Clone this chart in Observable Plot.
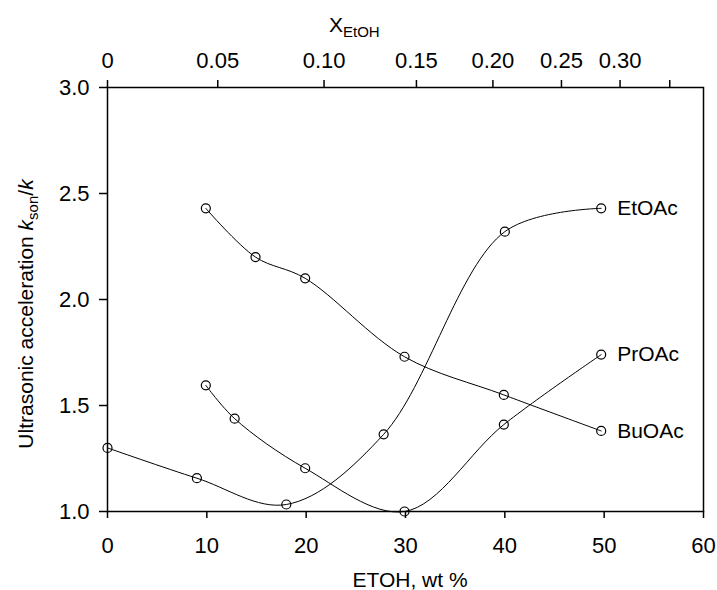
<!DOCTYPE html>
<html>
<head>
<meta charset="utf-8">
<script src="https://cdn.jsdelivr.net/npm/d3@7"></script>
<script src="https://cdn.jsdelivr.net/npm/@observablehq/plot@0.6"></script>
<style>
  html, body { margin: 0; padding: 0; background: white; }
</style>
</head>
<body>
<div id="chart"></div>
<script>
// ---- data ----
const seriesNames = ["EtOAc", "PrOAc", "BuOAc"];
const etoacWt  = [0, 9, 18, 27.8, 40, 49.7];
const etoacVal = [1.30, 1.157, 1.033, 1.364, 2.32, 2.43];
const proacWt  = [9.9, 12.8, 19.9, 29.9, 39.9, 49.7];
const proacVal = [1.595, 1.438, 1.204, 1.0, 1.41, 1.74];
const buoacWt  = [9.9, 14.9, 19.9, 29.9, 39.9, 49.7];
const buoacVal = [2.43, 2.20, 2.10, 1.73, 1.55, 1.38];

const xTicks = [0, 10, 20, 30, 40, 50, 60];
const yTicks = [1.0, 1.5, 2.0, 2.5, 3.0];
// top axis: mole fraction of ethanol, positioned in wt %
const topTickWt = [0, 11.1, 21.8, 31.1, 38.8, 45.7, 51.6, 56.6];
const topTickLabels = ["0", "0.05", "0.10", "0.15", "0.20", "0.25", "0.30", ""];

// ---- build table ----
const wts = [etoacWt, proacWt, buoacWt];
const vals = [etoacVal, proacVal, buoacVal];
const rows = [];
seriesNames.forEach((name, s) => {
  wts[s].forEach((w, i) => rows.push({series: name, wt: w, v: vals[s][i]}));
});
const lastRows = seriesNames.map((name, s) => ({
  series: name, wt: wts[s][wts[s].length - 1], v: vals[s][vals[s].length - 1]
}));
const topLabelMap = new Map(topTickWt.map((w, i) => [w, topTickLabels[i]]));

const svg = Plot.plot({
  width: 717,
  height: 590,
  marginLeft: 107,
  marginRight: 14,
  marginTop: 87,
  marginBottom: 79,
  style: {
    fontFamily: "Arial, 'Liberation Sans', sans-serif",
    fontSize: "22px",
    background: "white",
    color: "black"
  },
  x: {domain: [0, 60]},
  y: {domain: [1, 3]},
  marks: [
    Plot.frame({stroke: "black", strokeWidth: 1.5}),
    Plot.axisX(xTicks, {anchor: "bottom", tickSize: 7, tickPadding: 19, strokeWidth: 1.5,
      tickFormat: d => String(d), label: null}),
    Plot.axisX(topTickWt, {anchor: "top", tickSize: 8, tickPadding: 12, strokeWidth: 1.5,
      tickFormat: d => topLabelMap.get(d), label: null}),
    Plot.axisY(yTicks, {anchor: "left", tickSize: 8, tickPadding: 10, strokeWidth: 1.5,
      tickFormat: d => d.toFixed(1), label: null}),
    Plot.line(rows, {x: "wt", y: "v", z: "series", curve: "catmull-rom", stroke: "black", strokeWidth: 1}),
    Plot.dot(rows, {x: "wt", y: "v", r: 4.5, stroke: "black", strokeWidth: 1.2, fill: "none"}),
    Plot.text(lastRows, {x: "wt", y: "v", text: "series", textAnchor: "start", dx: 16, fontSize: 21})
  ]
});

const s = d3.select(svg);
// Bottom axis title
s.append("text")
  .attr("x", 410).attr("y", 587)
  .attr("text-anchor", "middle")
  .attr("font-size", 21).attr("fill", "black")
  .text("ETOH, wt %");

// Top axis title X_EtOH
const t = s.append("text")
  .attr("x", 329).attr("y", 32)
  .attr("text-anchor", "start")
  .attr("font-size", 21).attr("fill", "black");
t.append("tspan").text("X");
t.append("tspan").attr("dy", 5).attr("font-size", 15).text("EtOH");

// Y axis title with italic k and subscript
const yl = s.append("text")
  .attr("transform", "translate(33,314) rotate(-90)")
  .attr("text-anchor", "middle")
  .attr("font-size", 21).attr("fill", "black");
yl.append("tspan").text("Ultrasonic acceleration ");
yl.append("tspan").attr("font-style", "italic").text("k");
yl.append("tspan").attr("dy", 5).attr("font-size", 15).text("son");
yl.append("tspan").attr("dy", -5).text("/");
yl.append("tspan").attr("font-style", "italic").text("k");

document.getElementById("chart").appendChild(svg);
</script>
</body>
</html>
